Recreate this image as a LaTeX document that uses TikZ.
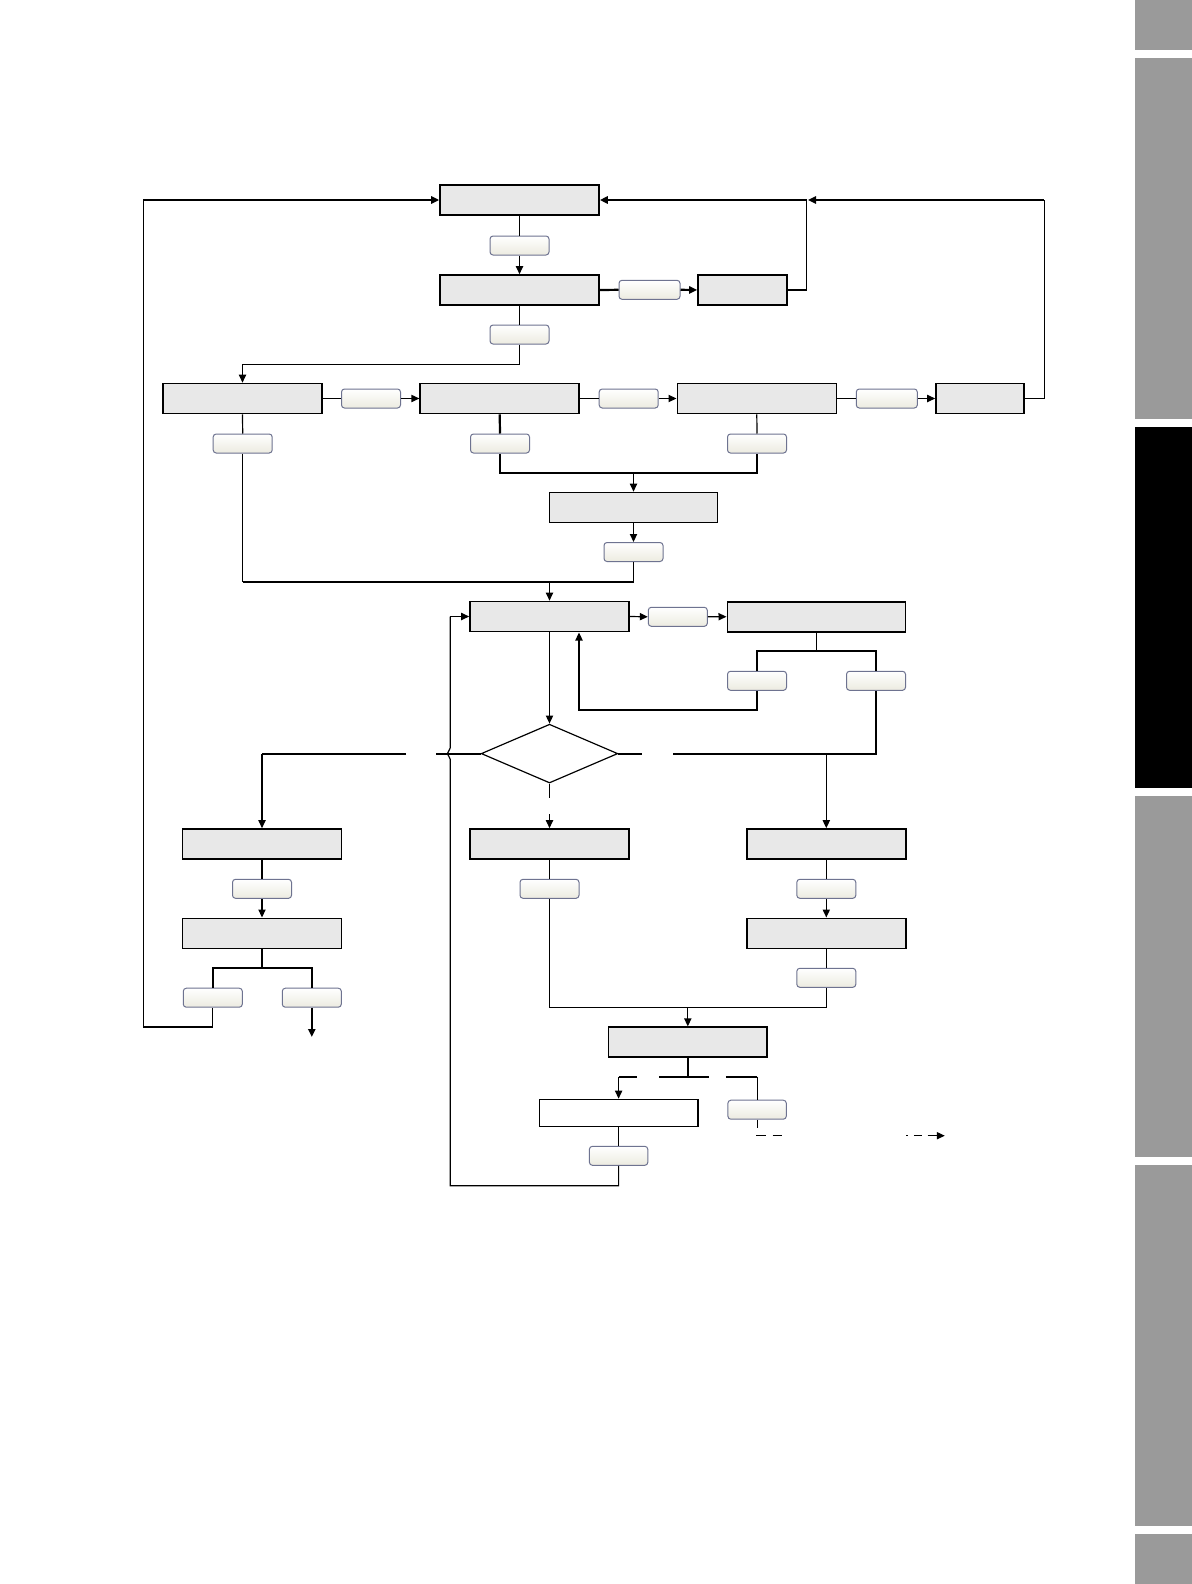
\documentclass[tikz,border=0pt]{standalone}
\usetikzlibrary{arrows.meta,shapes.geometric}
\definecolor{boxgray}{HTML}{E8E8E8}
\definecolor{pillborder}{HTML}{6E7390}
\definecolor{pillbottom}{HTML}{ECEBE0}
\definecolor{tabgray}{HTML}{9A9A9A}
\begin{document}
\begin{tikzpicture}[x=0.5pt,y=-0.5pt,
  gbox/.style={draw, fill=boxgray, line width=0.8pt, minimum width=79.5pt, minimum height=15pt, inner sep=0},
  wbox/.style={draw, fill=white, line width=0.6pt, minimum width=79.4pt, minimum height=13.5pt, inner sep=0},
  pill/.style={draw=pillborder, line width=0.5pt, rounded corners=1.5pt, top color=white, bottom color=pillbottom, minimum width=29.5pt, minimum height=9.5pt, inner sep=0},
  thin/.style={line width=0.6pt},
  thick/.style={line width=1.1pt},
  arr/.style={-{Triangle[length=4pt,width=3.6pt]}}
]
\fill[white] (0,0) rectangle (1192,1584);
\useasboundingbox (0,0) rectangle (1192,1584);

% side tabs
\fill[tabgray] (1135,0) rectangle (1192,50);
\fill[tabgray] (1135,58) rectangle (1192,419);
\fill[black] (1135,427) rectangle (1192,788);
\fill[tabgray] (1135,796) rectangle (1192,1157);
\fill[tabgray] (1135,1165) rectangle (1192,1526);
\fill[tabgray] (1135,1534) rectangle (1192,1584);

% boxes
\node[gbox] (A) at (519.5,200) {};
\node[gbox] (B) at (519.5,290) {};
\node[gbox, minimum width=44.5pt] (E) at (742.5,290) {};
\node[gbox] (C) at (242.5,398.5) {};
\node[gbox] (D) at (499.7,398.5) {};
\node[gbox] (F) at (756.8,398.5) {};
\node[gbox, minimum width=44pt] (H) at (980,398.5) {};
\node[gbox, minimum width=84pt] (G) at (633.5,507.5) {};
\node[gbox] (I) at (549.5,616.5) {};
\node[gbox, minimum width=89pt] (J) at (816.3,616.7) {};
\node[diamond, draw, line width=0.6pt, minimum width=68.3pt, minimum height=29.4pt, inner sep=0] (Q) at (549.5,753.6) {};
\node[gbox] (L) at (262,844) {};
\node[gbox] (M) at (262,933.3) {};
\node[gbox] (K) at (549.5,844) {};
\node[gbox] (R1) at (826.3,844) {};
\node[gbox] (R2) at (826.3,933.3) {};
\node[gbox, minimum width=79.3pt] (N) at (687.8,1042.2) {};
\node[wbox] (O) at (618.6,1112.8) {};

% pills
\node[pill] (p1) at (519.5,245.5) {};
\node[pill] (p2) at (519.5,334.5) {};
\node[pill, minimum width=30.5pt] (pBE) at (649.5,289.8) {};
\node[pill] (pCD) at (371,398.5) {};
\node[pill] (pDF) at (628.7,398.5) {};
\node[pill, minimum width=30.5pt] (pFH) at (886.8,398.5) {};
\node[pill] (pC) at (242.7,443.5) {};
\node[pill] (pD) at (500,443.5) {};
\node[pill] (pF) at (757,443.5) {};
\node[pill] (pG) at (633.5,552) {};
\node[pill] (pIJ) at (677.8,616.8) {};
\node[pill] (pJ1) at (757,680.8) {};
\node[pill] (pJ2) at (876,680.8) {};
\node[pill] (pL) at (262,888.8) {};
\node[pill] (pM1) at (212.8,997.7) {};
\node[pill] (pM2) at (311.8,997.7) {};
\node[pill] (pK) at (549.5,888.8) {};
\node[pill] (pR1) at (826.3,888.8) {};
\node[pill] (pR2) at (826.3,977.8) {};
\node[pill, minimum width=29.2pt] (pP) at (757.1,1109.7) {};
\node[pill, minimum width=29.2pt] (pQ) at (618.6,1155.8) {};

% coordinates
\coordinate (j1) at (806.7,200);
\coordinate (j2) at (1044.3,200);

% top area
\draw[thin] (A.south) -- (p1.north);
\draw[thin,arr] (p1.south) -- (B.north);
\draw[thin] (B.south) -- (p2.north);
\draw[thin,arr] (p2.south) |- (380,364.3) -| (C.north);
\draw[thick] (B.east) -- (pBE.west);
\draw[thick,arr] (pBE.east) -- (E.west);
\draw[thick] (E.east) -- (806.7,290);
\draw[thin] (806.7,290) -- (j1);
\draw[thick,arr] (j1) -- (A.east);
\draw[thin] (H.east) -- (1044.3,398.5) -- (j2);
\draw[thick,arr] (j2) -- (808,200);

% second row
\draw[thin] (C.east) -- (pCD.west);
\draw[thin,arr] (pCD.east) -- (D.west);
\draw[thin] (D.east) -- (pDF.west);
\draw[thin,arr] (pDF.east) -- (F.west);
\draw[thin] (F.east) -- (pFH.west);
\draw[thin,arr] (pFH.east) -- (H.west);
\draw[thin] (C.south) -- (pC.north);
\draw[thick] (D.south) -- (pD.north);
\draw[thin] (F.south) -- (pF.north);
\draw[thick] (pD.south) |- (633.5,472.7) -| (pF.south);
\draw[thin,arr] (633.5,472.7) -- (G.north);
\draw[thin,arr] (G.south) -- (pG.north);
\draw[thin] (pG.south) -- (633.5,581.7);
\draw[thin] (pC.south) -- (242.7,581.7);
\draw[thick] (242.7,581.7) -- (633.5,581.7);
\draw[thin,arr] (549.5,581.7) -- (I.north);

% middle
\draw[thin,arr] (I.east) -- (pIJ.west);
\draw[thin,arr] (pIJ.east) -- (J.west);
\draw[thin] (J.south) -- (816.3,651);
\draw[thin] (pJ1.north) |- (816.3,651) -| (pJ2.north);
\draw[line width=0.8pt,arr] (pJ1.south) |- (640,710) -| (579,632.5);
\draw[thin,arr] (I.south) -- (Q.north);
\draw[thick] (pJ2.south) |- (673.3,753.6);
\draw[thick] (Q.east) -- (642,753.6);
\draw[thin,arr] (826.3,753.6) -- (R1.north);
\draw[thick] (Q.west) -- (435.7,753.6);
\draw[thick] (406,753.6) -- (262,753.6);
\draw[thin,arr] (262,753.6) -- (L.north);
\draw[thin] (Q.south) -- (549.5,798.3);
\draw[thin,arr] (549.5,814.3) -- (K.north);

% left column
\draw[thin] (L.south) -- (pL.north);
\draw[thin,arr] (pL.south) -- (M.north);
\draw[thin] (M.south) -- (262,967.7);
\draw[thick] (pM1.north) |- (262,967.7) -| (pM2.north);
\draw[thin] (pM1.south) |- (143.3,1027) -- (143.3,200);
\draw[thick,arr] (143.3,200) -- (A.west);
\draw[thick,arr] (pM2.south) -- (311.8,1037);

% center / right columns
\draw[thin] (K.south) -- (pK.north);
\draw[thin] (R1.south) -- (pR1.north);
\draw[thin,arr] (pR1.south) -- (R2.north);
\draw[thin] (R2.south) -- (pR2.north);
\draw[thin] (pK.south) |- (687.8,1007.3) -| (pR2.south);
\draw[thin,arr] (687.8,1007.3) -- (N.north);

% bottom
\draw[thick] (N.south) -- (687.8,1076.7);
\draw[thick] (659,1076.7) -- (708.6,1076.7);
\draw[thick] (636.6,1076.7) -- (618.6,1076.7);
\draw[thin,arr] (618.6,1076.7) -- (O.north);
\draw[thick] (725.8,1076.7) -- (757.1,1076.7);
\draw[thin] (757.1,1076.7) -- (pP.north);
\draw[thin] (pP.south) -- (757.1,1128.3);
\draw[thin] (756.4,1135.7) -- (765.7,1135.7);
\draw[thin] (772.6,1135.7) -- (781.9,1135.7);
\draw[thin] (906,1135.7) -- (908,1135.7);
\draw[thin] (913.8,1135.7) -- (922.4,1135.7);
\draw[thin,arr] (927.6,1135.7) -- (944.8,1135.7);
\draw[thin] (O.south) -- (pQ.north);
\draw[thin] (pQ.south) |- (450.3,1185.7) -- (450.3,759.5)
  .. controls (450.3,756) and (447.4,756.5) .. (447.4,753.6)
  .. controls (447.4,750.7) and (450.3,751.2) .. (450.3,747.7)
  -- (450.3,616.5);
\draw[thin,arr] (450.3,616.5) -- (I.west);
\end{tikzpicture}
\end{document}
